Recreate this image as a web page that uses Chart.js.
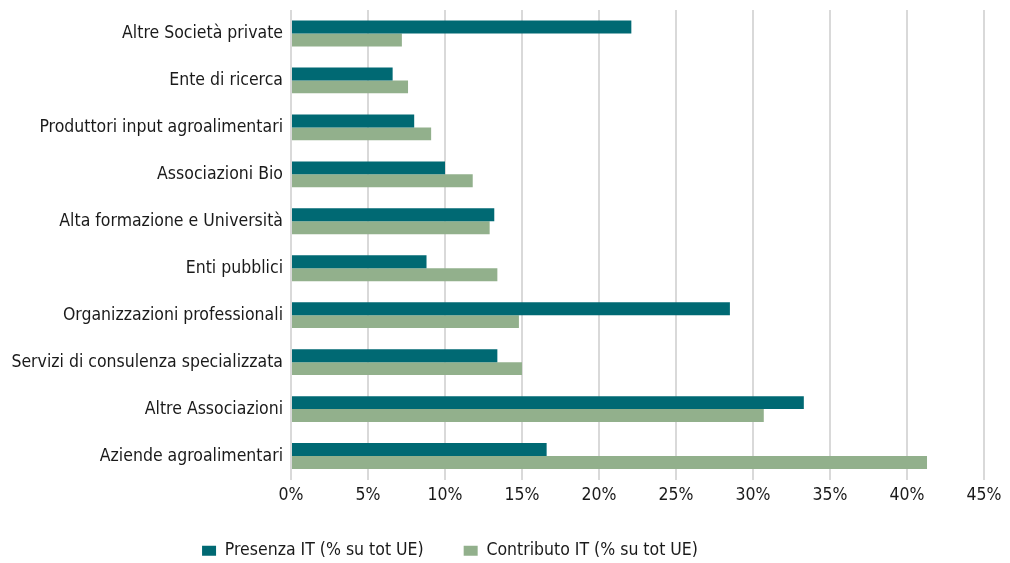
<!DOCTYPE html>
<html>
<head>
<meta charset="utf-8">
<script src="https://cdn.jsdelivr.net/npm/chart.js@4.4.0/dist/chart.umd.min.js"></script>
<style>
  html, body { margin: 0; padding: 0; background: #fff; }
  #wrap { width: 1010px; height: 563px; }
</style>
</head>
<body>
<div id="wrap"><canvas id="chart"></canvas></div>
<script>
  const categories = [
    "Altre Società private",
    "Ente di ricerca",
    "Produttori input agroalimentari",
    "Associazioni Bio",
    "Alta formazione e Università",
    "Enti pubblici",
    "Organizzazioni professionali",
    "Servizi di consulenza specializzata",
    "Altre Associazioni",
    "Aziende agroalimentari"
  ];
  const presenza = [22.1, 6.6, 8.0, 10.0, 13.2, 8.8, 28.5, 13.4, 33.3, 16.6];
  const contributo = [7.2, 7.6, 9.1, 11.8, 12.9, 13.4, 14.8, 15.0, 30.7, 41.3];
  const seriesNames = ["Presenza IT (% su tot UE)", "Contributo IT (% su tot UE)"];

  const FONT = "'Liberation Sans Narrow', 'DejaVu Sans Condensed', 'Roboto Condensed', sans-serif";
  const FSIZE = 17.5;

  // legend: fixed height and nudged left, it's not centred on the canvas in the original
  const legendTweak = {
    id: "legendTweak",
    afterInit(chart) {
      const lg = chart.legend;
      if (!lg) return;
      const origFit = lg.fit;
      lg.fit = function () {
        origFit.call(this);
        this.height = 61;
      };
    },
    afterLayout(chart) {
      const lg = chart.legend;
      if (!lg) return;
      lg.left -= 42;
      lg.right -= 42;
    }
  };

  new Chart(document.getElementById("chart"), {
    type: "bar",
    data: {
      labels: categories,
      datasets: [
        {
          label: seriesNames[0],
          data: presenza,
          backgroundColor: "#006973",
          categoryPercentage: 0.55,
          barPercentage: 1.0
        },
        {
          label: seriesNames[1],
          data: contributo,
          backgroundColor: "#92b08c",
          categoryPercentage: 0.55,
          barPercentage: 1.0
        }
      ]
    },
    options: {
      indexAxis: "y",
      responsive: true,
      maintainAspectRatio: false,
      animation: false,
      layout: { padding: { left: 0, top: 10, right: 26, bottom: 0 } },
      plugins: {
        legend: {
          position: "bottom",
          labels: {
            color: "#1a1a1a",
            font: { family: FONT, size: FSIZE },
            boxWidth: 14,
            boxHeight: 10,
            padding: 40
          }
        },
        tooltip: { enabled: false }
      },
      scales: {
        x: {
          min: 0,
          max: 45,
          ticks: {
            stepSize: 5,
            color: "#1a1a1a",
            padding: 5,
            font: { family: FONT, size: FSIZE },
            callback: (v) => v + "%"
          },
          grid: { color: "#d9d9d9", lineWidth: 2, drawTicks: false },
          border: { display: false },
          afterFit: (scale) => { scale.height = 22.5; }
        },
        y: {
          ticks: {
            color: "#1a1a1a",
            padding: 8,
            font: { family: FONT, size: FSIZE }
          },
          grid: { display: false, drawTicks: false },
          border: { display: false },
          afterFit: (scale) => {
            scale.width = 291;
            scale.paddingTop = 0;
            scale.paddingBottom = 0;
          }
        }
      }
    },
    plugins: [legendTweak]
  });
</script>
</body>
</html>
